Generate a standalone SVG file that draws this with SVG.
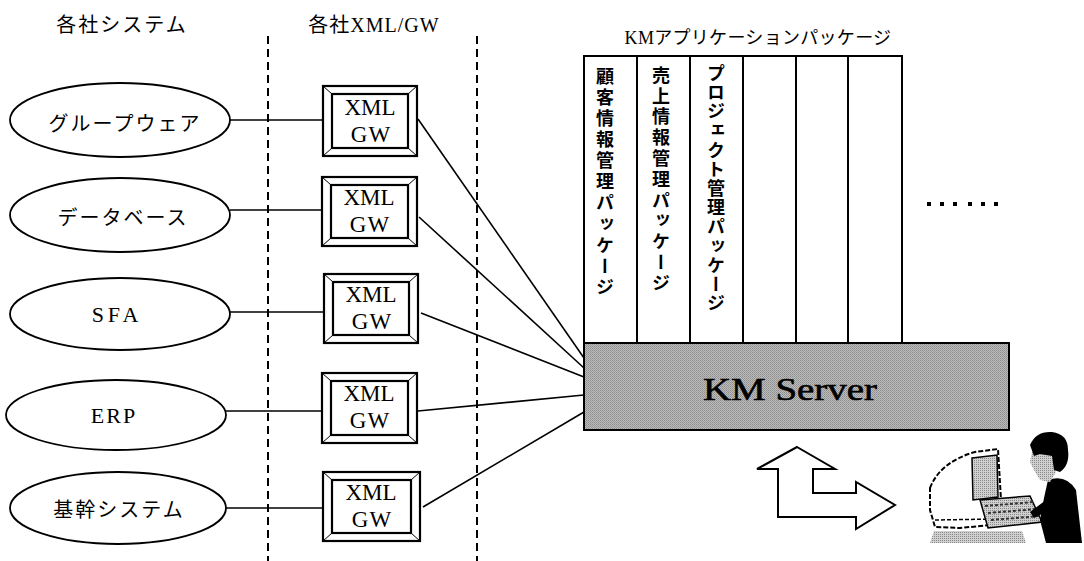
<svg xmlns="http://www.w3.org/2000/svg" width="1084" height="561" viewBox="0 0 1084 561">
  <style>
    .t { font-family: "Liberation Serif", "Noto Sans CJK JP", serif; fill: #000; }
    .jp { font-family: "Noto Sans CJK JP", "Liberation Sans", sans-serif; fill: #000; }
    .sys { fill: #fff; stroke: #000; stroke-width: 1.8; }
    .gw { fill: #fff; stroke: #000; stroke-width: 2.2; }
    .bev { stroke: #000; stroke-width: 1; fill: none; }
    .link { stroke: #000; stroke-width: 1.6; fill: none; }
    .zone { stroke: #000; stroke-width: 2; stroke-dasharray: 8 5; fill: none; }
    .col { fill: #fff; stroke: #000; stroke-width: 2; }
    .vt { writing-mode: vertical-rl; font-family: "Noto Sans CJK JP", sans-serif; font-size: 18px; font-weight: 700; fill: #000; }
  </style>
  <defs>
    <pattern id="dither" width="2" height="2" patternUnits="userSpaceOnUse">
      <rect width="2" height="2" fill="#bdbdbd"/>
      <rect width="1" height="1" fill="#8c8c8c"/>
      <rect x="1" y="1" width="1" height="1" fill="#9a9a9a"/>
    </pattern>
    <pattern id="screen" width="2" height="2" patternUnits="userSpaceOnUse">
      <rect width="2" height="2" fill="#d0d0d0"/>
      <rect width="1" height="1" fill="#8a8a8a"/>
    </pattern>
  </defs>

  <rect width="1084" height="561" fill="#fff"/>

  <!-- column headings -->
  <g id="headings">
    <text class="jp" x="122" y="32" font-size="20" letter-spacing="2" text-anchor="middle">各社システム</text>
    <text class="t" x="374" y="32" font-size="20" letter-spacing="1" text-anchor="middle">各社XML/GW</text>
    <text class="t" x="758" y="44" font-size="18" letter-spacing="0.3" text-anchor="middle">KMアプリケーションパッケージ</text>
  </g>

  <!-- zone separators -->
  <g id="zones">
    <line class="zone" x1="268" y1="36" x2="268" y2="561"/>
    <line class="zone" x1="477" y1="36" x2="477" y2="561"/>
  </g>

  <!-- connectors -->
  <g id="connectors">
    <line class="link" x1="230" y1="120" x2="322" y2="120"/>
    <line class="link" x1="230" y1="210" x2="322" y2="210"/>
    <line class="link" x1="230" y1="312" x2="324" y2="312"/>
    <line class="link" x1="226" y1="411" x2="322" y2="411"/>
    <line class="link" x1="225" y1="508" x2="323" y2="508"/>
    <line class="link" x1="418" y1="119" x2="584" y2="358"/>
    <line class="link" x1="419" y1="217" x2="584" y2="368"/>
    <line class="link" x1="421" y1="313" x2="584" y2="377"/>
    <line class="link" x1="418" y1="411" x2="584" y2="395"/>
    <line class="link" x1="423" y1="507" x2="584" y2="412"/>
  </g>

  <!-- source systems -->
  <g id="sys-groupware">
    <ellipse class="sys" cx="120" cy="120" rx="110" ry="37"/>
    <text class="jp" x="125" y="131" font-size="20" letter-spacing="2" text-anchor="middle">グループウェア</text>
  </g>
  <g id="sys-database">
    <ellipse class="sys" cx="120" cy="215" rx="110" ry="37"/>
    <text class="jp" x="123" y="225" font-size="20" letter-spacing="2" text-anchor="middle">データベース</text>
  </g>
  <g id="sys-sfa">
    <ellipse class="sys" cx="120" cy="314" rx="110" ry="36"/>
    <text class="t" x="117" y="322" font-size="22" letter-spacing="4" text-anchor="middle">SFA</text>
  </g>
  <g id="sys-erp">
    <ellipse class="sys" cx="116" cy="415" rx="110" ry="35"/>
    <text class="t" x="114" y="423" font-size="22" letter-spacing="2" text-anchor="middle">ERP</text>
  </g>
  <g id="sys-core">
    <ellipse class="sys" cx="118" cy="508" rx="108" ry="36"/>
    <text class="jp" x="119" y="517" font-size="20" letter-spacing="2" text-anchor="middle">基幹システム</text>
  </g>

  <!-- XML gateways -->
  <g id="gw-1">
    <rect class="gw" x="323" y="86" width="94" height="70"/>
    <rect class="gw" x="332" y="94" width="76" height="54"/>
    <path class="bev" d="M323 86L332 94M417 86L408 94M323 156L332 148M417 156L408 148"/>
    <text class="t" x="370" y="115" font-size="23" text-anchor="middle">XML</text>
    <text class="t" x="371" y="142" font-size="23" letter-spacing="1" text-anchor="middle">GW</text>
  </g>
  <g id="gw-2">
    <rect class="gw" x="322" y="177" width="95" height="69"/>
    <rect class="gw" x="331" y="185" width="77" height="53"/>
    <path class="bev" d="M322 177L331 185M417 177L408 185M322 246L331 238M417 246L408 238"/>
    <text class="t" x="369" y="205" font-size="23" text-anchor="middle">XML</text>
    <text class="t" x="370" y="232" font-size="23" letter-spacing="1" text-anchor="middle">GW</text>
  </g>
  <g id="gw-3">
    <rect class="gw" x="324" y="274" width="94" height="69"/>
    <rect class="gw" x="333" y="282" width="76" height="53"/>
    <path class="bev" d="M324 274L333 282M418 274L409 282M324 343L333 335M418 343L409 335"/>
    <text class="t" x="371" y="302" font-size="23" text-anchor="middle">XML</text>
    <text class="t" x="372" y="329" font-size="23" letter-spacing="1" text-anchor="middle">GW</text>
  </g>
  <g id="gw-4">
    <rect class="gw" x="322" y="373" width="95" height="70"/>
    <rect class="gw" x="331" y="381" width="77" height="54"/>
    <path class="bev" d="M322 373L331 381M417 373L408 381M322 443L331 435M417 443L408 435"/>
    <text class="t" x="369" y="401" font-size="23" text-anchor="middle">XML</text>
    <text class="t" x="370" y="428" font-size="23" letter-spacing="1" text-anchor="middle">GW</text>
  </g>
  <g id="gw-5">
    <rect class="gw" x="323" y="472" width="97" height="69"/>
    <rect class="gw" x="332" y="480" width="79" height="53"/>
    <path class="bev" d="M323 472L332 480M420 472L411 480M323 541L332 533M420 541L411 533"/>
    <text class="t" x="371" y="500" font-size="23" text-anchor="middle">XML</text>
    <text class="t" x="372" y="527" font-size="23" letter-spacing="1" text-anchor="middle">GW</text>
  </g>

  <!-- application packages -->
  <g id="packages">
    <rect class="col" x="584" y="56" width="53" height="287"/>
    <rect class="col" x="637" y="56" width="53" height="287"/>
    <rect class="col" x="690" y="56" width="53" height="287"/>
    <rect class="col" x="743" y="56" width="53" height="287"/>
    <rect class="col" x="796" y="56" width="52" height="287"/>
    <rect class="col" x="848" y="56" width="54" height="287"/>
    <text class="vt" x="605" y="67" letter-spacing="3.1">顧客情報管理パッケージ</text>
    <text class="vt" x="661" y="66" letter-spacing="2.8">売上情報管理パッケージ</text>
    <text class="vt" x="716" y="64" letter-spacing="1.2">プロジェクト管理パッケージ</text>
  </g>

  <!-- more packages -->
  <g id="ellipsis" fill="#000">
    <rect x="927" y="202" width="4" height="4"/>
    <rect x="940" y="202" width="4" height="4"/>
    <rect x="953" y="202" width="4" height="4"/>
    <rect x="968" y="202" width="4" height="4"/>
    <rect x="981" y="202" width="4" height="4"/>
    <rect x="994" y="202" width="4" height="4"/>
  </g>

  <!-- server -->
  <g id="km-server">
    <rect x="584" y="343" width="425" height="87" fill="url(#dither)" stroke="#000" stroke-width="2"/>
    <text class="t" x="703" y="400" font-size="31" stroke="#000" stroke-width="0.6" textLength="174" lengthAdjust="spacingAndGlyphs">KM Server</text>
  </g>

  <!-- exchange arrow -->
  <g id="exchange-arrow">
    <polygon points="797,447 835,469 813,469 813,493 856,493 856,482 895,505 856,529 856,517 778,517 778,469 757,469" fill="#fff" stroke="#000" stroke-width="2" stroke-linejoin="miter"/>
  </g>

  <!-- user at workstation -->
  <g id="user">
    <!-- desk base -->
    <path d="M934 531 L1022 531 L1026 543 L930 543 Z" fill="url(#screen)"/>
    <!-- monitor body -->
    <path d="M930 488 Q940 462 975 452 L998 449 L1001 500 L1000 524 L960 528 L935 527 L930 510 Z" fill="#fff" stroke="#000" stroke-width="2" stroke-dasharray="5 2"/>
    <path d="M935 520 L995 519" stroke="#000" stroke-width="1.5" stroke-dasharray="4 2"/>
    <!-- screen -->
    <path d="M972 458 L997 455 L998 497 L973 500 Z" fill="url(#screen)" stroke="#000" stroke-width="1.5"/>
    <!-- keyboard -->
    <path d="M980 500 L1030 496 L1042 522 L988 528 Z" fill="url(#screen)" stroke="#000" stroke-width="1.5"/>
    <path d="M985 506 L1034 502 M988 513 L1037 509 M991 520 L1040 516" stroke="#333" stroke-width="2" stroke-dasharray="3 2"/>
    <!-- person body -->
    <path d="M1048 480 Q1066 474 1076 490 L1082 543 L1046 543 L1040 520 L1044 498 Z" fill="#000"/>
    <!-- face -->
    <path d="M1032 452 L1052 450 L1056 472 L1050 482 L1040 480 L1034 470 L1030 462 Z" fill="url(#screen)"/>
    <!-- hair -->
    <path d="M1030 445 Q1036 431 1052 432 Q1068 434 1068 450 Q1070 465 1060 472 L1054 470 L1052 456 L1040 454 L1034 456 Z" fill="#000"/>
    <!-- arm to keyboard -->
    <path d="M1046 500 L1030 512 L1034 518 L1050 510 Z" fill="#000"/>
  </g>
</svg>
